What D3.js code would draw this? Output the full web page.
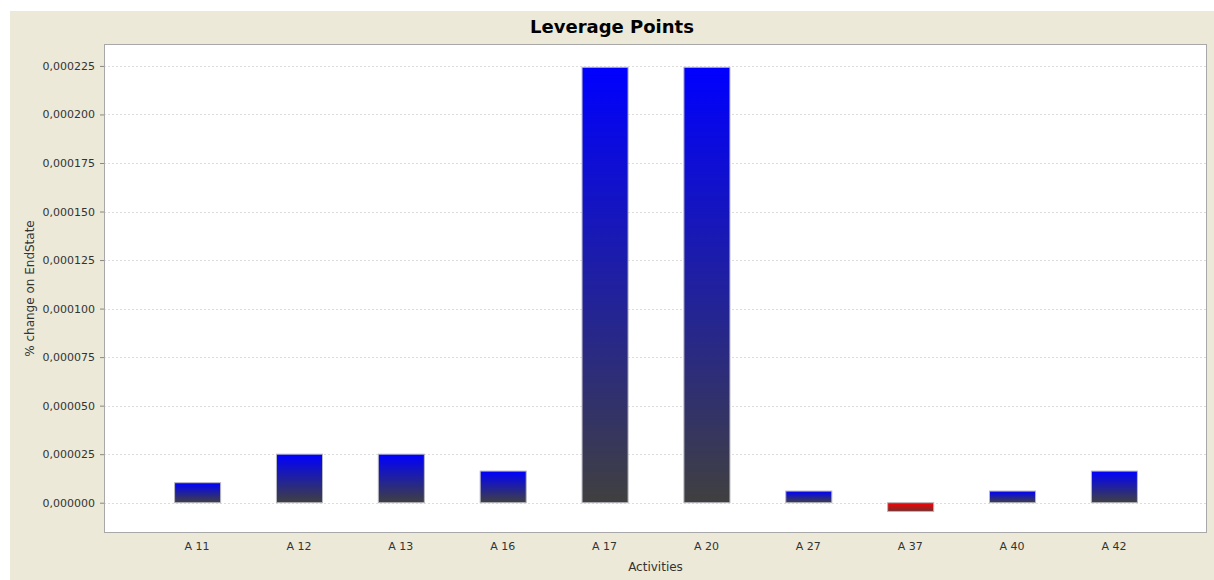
<!DOCTYPE html>
<html>
<head>
<meta charset="utf-8">
<script src="https://cdn.jsdelivr.net/npm/d3@7/dist/d3.min.js"></script>
<style>
  html, body { margin: 0; padding: 0; background: #ffffff; }
  svg { display: block; }
</style>
</head>
<body>
<svg id="chart" width="1214" height="580"></svg>
<script>
// Leverage points: % change on end state per activity
const categories = ["A 11", "A 12", "A 13", "A 16", "A 17", "A 20", "A 27", "A 37", "A 40", "A 42"];
const values = [0.0000103, 0.000025, 0.000025, 0.0000163, 0.0002243, 0.0002243, 0.000006, -0.0000045, 0.000006, 0.0000163];
const yTicks = [0, 0.000025, 0.00005, 0.000075, 0.0001, 0.000125, 0.00015, 0.000175, 0.0002, 0.000225];
const yDomain = [-0.0000156, 0.0002363];

const svg = d3.select("#chart");
const W = 1214, H = 580;
const plot = { left: 104, top: 44, right: 1207, bottom: 533 };

// panel background
svg.append("rect")
  .attr("x", 10).attr("y", 11)
  .attr("width", W - 10).attr("height", H - 11)
  .attr("fill", "#ece9d8");

// plot area
svg.append("rect")
  .attr("x", plot.left).attr("y", plot.top)
  .attr("width", plot.right - plot.left).attr("height", plot.bottom - plot.top)
  .attr("fill", "#ffffff");

const x = d3.scaleBand()
  .domain(categories)
  .range([plot.left, plot.right])
  .paddingInner(0.548)
  .paddingOuter(0.688);

const y = d3.scaleLinear()
  .domain(yDomain)
  .range([plot.bottom, plot.top]);

const fmt = v => d3.format(".6f")(v).replace(".", ",");

// gradients
const defs = svg.append("defs");
function grad(id, top, bottom) {
  const g = defs.append("linearGradient")
    .attr("id", id)
    .attr("x1", 0).attr("y1", 0).attr("x2", 0).attr("y2", 1);
  g.append("stop").attr("offset", "0%").attr("stop-color", top);
  g.append("stop").attr("offset", "100%").attr("stop-color", bottom);
}
grad("gradPos", "#0000ff", "#404040");
grad("gradNeg", "#ff0000", "#703030");

// gridlines
svg.append("g")
  .selectAll("line")
  .data(yTicks)
  .join("line")
  .attr("x1", plot.left).attr("x2", plot.right)
  .attr("y1", d => Math.round(y(d)) + 0.5)
  .attr("y2", d => Math.round(y(d)) + 0.5)
  .attr("stroke", "#dcdcdc")
  .attr("stroke-width", 1)
  .attr("stroke-dasharray", "2,2");

// bars
svg.append("g")
  .selectAll("rect")
  .data(categories.map((c, i) => ({ c, v: values[i] })))
  .join("rect")
  .attr("x", d => x(d.c) + 0.5)
  .attr("y", d => y(Math.max(0, d.v)))
  .attr("width", x.bandwidth())
  .attr("height", d => Math.abs(y(d.v) - y(0)))
  .attr("fill", d => d.v >= 0 ? "url(#gradPos)" : "url(#gradNeg)")
  .attr("stroke", "#b8b8c0")
  .attr("stroke-width", 1);

// plot border
svg.append("rect")
  .attr("x", plot.left + 0.5).attr("y", plot.top + 0.5)
  .attr("width", plot.right - plot.left - 1).attr("height", plot.bottom - plot.top - 1)
  .attr("fill", "none")
  .attr("stroke", "#a8a8a8")
  .attr("stroke-width", 1);

// y axis
const yAxis = svg.append("g")
  .attr("transform", `translate(${plot.left},0)`)
  .call(d3.axisLeft(y).tickValues(yTicks).tickFormat(fmt).tickSize(4).tickPadding(5));
yAxis.select(".domain").remove();
yAxis.selectAll(".tick line").attr("stroke", "#888888");
yAxis.selectAll(".tick text")
  .attr("font-family", "DejaVu Sans, sans-serif")
  .attr("font-size", 11)
  .attr("fill", "#333333");

// x axis labels
const xAxis = svg.append("g")
  .attr("transform", `translate(0,${plot.bottom})`)
  .call(d3.axisBottom(x).tickSize(0).tickPadding(0));
xAxis.select(".domain").remove();
xAxis.selectAll(".tick text")
  .attr("y", 17)
  .attr("dy", 0)
  .attr("font-family", "DejaVu Sans, sans-serif")
  .attr("font-size", 11)
  .attr("fill", "#333333");

// title
svg.append("text")
  .attr("x", 612).attr("y", 33)
  .attr("text-anchor", "middle")
  .attr("font-family", "DejaVu Sans, sans-serif")
  .attr("font-weight", "bold")
  .attr("font-size", 18)
  .attr("fill", "#000000")
  .text("Leverage Points");

// axis titles
svg.append("text")
  .attr("x", (plot.left + plot.right) / 2).attr("y", 571)
  .attr("text-anchor", "middle")
  .attr("font-family", "DejaVu Sans, sans-serif")
  .attr("font-size", 12)
  .attr("fill", "#333333")
  .text("Activities");

svg.append("text")
  .attr("transform", `translate(34,${(plot.top + plot.bottom) / 2}) rotate(-90)`)
  .attr("text-anchor", "middle")
  .attr("font-family", "DejaVu Sans, sans-serif")
  .attr("font-size", 12)
  .attr("fill", "#333333")
  .text("% change on EndState");
</script>
</body>
</html>
